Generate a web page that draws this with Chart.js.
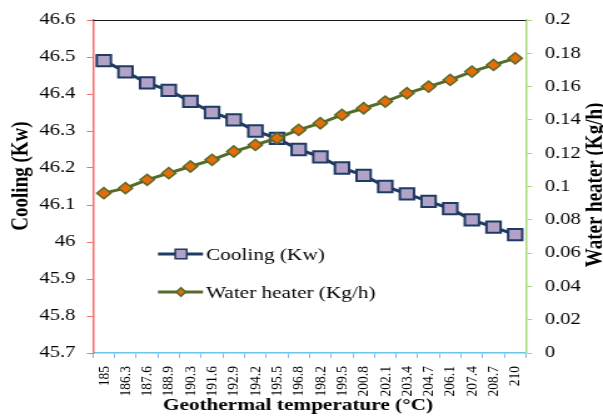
<!DOCTYPE html>
<html>
<head>
<meta charset="utf-8">
<script src="https://cdn.jsdelivr.net/npm/chart.js@4.4.1/dist/chart.umd.min.js"></script>
<style>
html,body{margin:0;padding:0;background:#fff;overflow:hidden;width:603px;height:417px;}
#wrap{position:absolute;left:0;top:0;width:482px;height:417px;transform:scaleX(1.25104);transform-origin:0 0;}
</style>
</head>
<body>
<div id="wrap"><canvas id="c"></canvas></div>
<script>
// ---- data ----
const categories = ['185','186.3','187.6','188.9','190.3','191.6','192.9','194.2','195.5','196.8','198.2','199.5','200.8','202.1','203.4','204.7','206.1','207.4','208.7','210'];
const coolingKw = [46.49,46.46,46.43,46.41,46.38,46.35,46.33,46.30,46.28,46.25,46.23,46.20,46.18,46.15,46.13,46.11,46.09,46.06,46.04,46.02];
const waterHeaterKgh = [0.096,0.099,0.104,0.108,0.112,0.116,0.121,0.125,0.129,0.134,0.138,0.143,0.147,0.151,0.156,0.160,0.164,0.169,0.173,0.177];
const coolingTicks = [45.7,45.8,45.9,46.0,46.1,46.2,46.3,46.4,46.5,46.6];
const coolingTickLabels = ['45.7','45.8','45.9','46','46.1','46.2','46.3','46.4','46.5','46.6'];
const waterTicks = [0,0.02,0.04,0.06,0.08,0.1,0.12,0.14,0.16,0.18,0.2];
const waterTickLabels = ['0','0.02','0.04','0.06','0.08','0.1','0.12','0.14','0.16','0.18','0.2'];
const seriesNames = ['Cooling (Kw)','Water heater (Kg/h)'];
const xTitle = 'Geothermal temperature (°C)';
const yTitle = 'Cooling (Kw)';
const y1Title = 'Water heater (Kg/h)';

// ---- styling ----
const S = 1.25104;            // horizontal stretch of the page
const L = v => v / S;         // physical x -> canvas x
const SERIF = "'Liberation Serif','Times New Roman',serif";
const NAVY = '#1F3B63', LAV = '#B3A2C7';
const OLIVE = '#566B29', ORANGE = '#E46C0A';
const RED = '#F76F6F', GREEN = '#A8DA78', BLUE = '#6CC4EE';

const deco = {
  id: 'deco',
  beforeDatasetsDraw(chart) {
    const ctx = chart.ctx, a = chart.chartArea;
    ctx.save();
    ctx.strokeStyle = '#1a1a1a';
    ctx.lineWidth = 1;
    ctx.beginPath();
    ctx.moveTo(a.left, a.top + 0.5);
    ctx.lineTo(a.right, a.top + 0.5);
    ctx.stroke();
    ctx.restore();
  },
  afterDraw(chart) {
    const ctx = chart.ctx;
    ctx.save();
    ctx.fillStyle = '#000';
    ctx.textAlign = 'center';
    ctx.textBaseline = 'middle';
    ctx.font = 'bold 17px ' + SERIF;
    ctx.fillText(xTitle, L(298), 406);
    ctx.font = 'bold 19px ' + SERIF;
    ctx.save();
    ctx.translate(L(21), 176);
    ctx.rotate(-Math.PI / 2);
    ctx.fillText(yTitle, 0, 0);
    ctx.restore();
    ctx.save();
    ctx.translate(L(595), 185);
    ctx.rotate(-Math.PI / 2);
    ctx.fillText(y1Title, 0, 0);
    ctx.restore();

    // legend
    const x0 = L(158), x1 = L(203), xm = L(181), xt = L(206);
    const rows = [
      {y: 254, line: NAVY, fill: LAV, border: NAVY, shape: 'rect', text: seriesNames[0], base: 260},
      {y: 292, line: OLIVE, fill: ORANGE, border: OLIVE, shape: 'diamond', text: seriesNames[1], base: 298}
    ];
    rows.forEach(r => {
      ctx.strokeStyle = r.line;
      ctx.lineWidth = 3;
      ctx.beginPath();
      ctx.moveTo(x0, r.y);
      ctx.lineTo(x1, r.y);
      ctx.stroke();
      ctx.fillStyle = r.fill;
      ctx.strokeStyle = r.border;
      ctx.lineWidth = 1.5;
      ctx.beginPath();
      if (r.shape === 'rect') {
        ctx.rect(xm - 4.6, r.y - 4.8, 9.2, 9.6);
      } else {
        const rr = 4.3;
        ctx.moveTo(xm - rr * 0.85, r.y);
        ctx.lineTo(xm, r.y - rr);
        ctx.lineTo(xm + rr * 0.85, r.y);
        ctx.lineTo(xm, r.y + rr);
        ctx.closePath();
      }
      ctx.fill();
      ctx.stroke();
      ctx.fillStyle = '#000';
      ctx.textAlign = 'left';
      ctx.textBaseline = 'alphabetic';
      ctx.font = '17px ' + SERIF;
      ctx.fillText(r.text, xt, r.base);
    });
    ctx.restore();
  }
};

new Chart(document.getElementById('c'), {
  type: 'line',
  data: {
    labels: categories,
    datasets: [
      {
        label: seriesNames[0],
        data: coolingKw,
        yAxisID: 'y',
        order: 2,
        borderColor: NAVY,
        borderWidth: 3,
        tension: 0,
        pointStyle: 'rect',
        pointRadius: 8,
        pointHoverRadius: 8,
        pointBackgroundColor: LAV,
        pointBorderColor: NAVY,
        pointBorderWidth: 2
      },
      {
        label: seriesNames[1],
        data: waterHeaterKgh,
        yAxisID: 'y1',
        order: 1,
        borderColor: OLIVE,
        borderWidth: 3,
        tension: 0,
        pointStyle: 'rectRot',
        pointRadius: 5.6,
        pointHoverRadius: 5.6,
        pointBackgroundColor: ORANGE,
        pointBorderColor: OLIVE,
        pointBorderWidth: 1.5
      }
    ]
  },
  options: {
    responsive: true,
    maintainAspectRatio: false,
    animation: false,
    events: [],
    layout: { padding: { top: 20, left: 0, right: 0, bottom: 0 } },
    plugins: { legend: { display: false }, tooltip: { enabled: false } },
    scales: {
      x: {
        type: 'category',
        offset: true,
        grid: { display: true, drawOnChartArea: false, drawTicks: true, tickLength: 5, color: BLUE, offset: true },
        border: { display: true, color: BLUE, width: 1.5 },
        ticks: { autoSkip: false, minRotation: 90, maxRotation: 90, padding: 8, color: '#000', font: { family: SERIF, size: 13.5 } },
        afterFit: s => { s.height = 417 - 353; }
      },
      y: {
        position: 'left',
        min: 45.7, max: 46.6,
        afterBuildTicks: s => { s.ticks = coolingTicks.map(v => ({ value: v })); },
        grid: { display: true, drawOnChartArea: false, drawTicks: true, tickLength: 5, color: RED },
        border: { display: true, color: RED, width: 1.5 },
        ticks: { padding: 9, color: '#000', font: { family: SERIF, size: 16.5 }, callback: (v, i) => coolingTickLabels[i] },
        afterFit: s => { s.width = L(93); }
      },
      y1: {
        position: 'right',
        min: 0, max: 0.2,
        afterBuildTicks: s => { s.ticks = waterTicks.map(v => ({ value: v })); },
        grid: { display: true, drawOnChartArea: false, drawTicks: true, tickLength: 5, color: GREEN },
        border: { display: true, color: GREEN, width: 1.5 },
        ticks: { padding: 10, color: '#000', font: { family: SERIF, size: 16.5 }, callback: (v, i) => waterTickLabels[i] },
        afterFit: s => { s.width = 482 - L(526); }
      }
    }
  },
  plugins: [deco]
});
</script>
</body>
</html>
